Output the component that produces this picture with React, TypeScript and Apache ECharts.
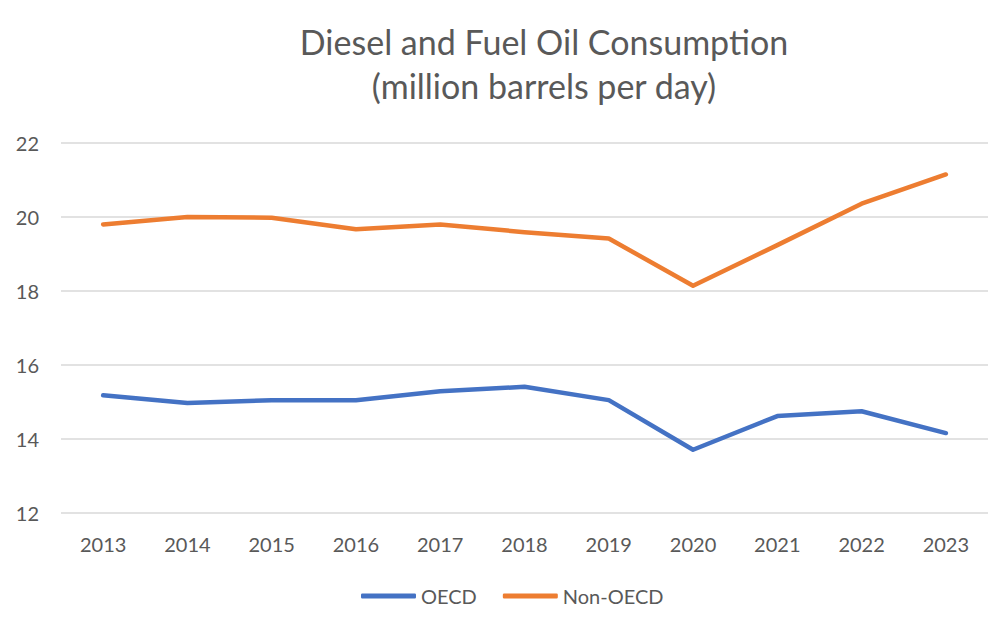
import React, { useEffect, useRef } from "react";
import * as echarts from "echarts";

const years = ["2013", "2014", "2015", "2016", "2017", "2018", "2019", "2020", "2021", "2022", "2023"];
const oecd = [15.18, 14.97, 15.05, 15.05, 15.29, 15.41, 15.05, 13.71, 14.62, 14.75, 14.16];
const nonOecd = [19.8, 20.0, 19.98, 19.67, 19.8, 19.59, 19.42, 18.14, 19.24, 20.36, 21.15];

const FONT = "Lato, 'Open Sans', sans-serif";
const TEXT = "#595959";

export default function App() {
  const ref = useRef<HTMLDivElement>(null);
  useEffect(() => {
    if (!ref.current) return;
    const chart = echarts.init(ref.current, null, { renderer: "svg" });
    chart.setOption({
      animation: false,
      backgroundColor: "#ffffff",
      title: {
        text: "Diesel and Fuel Oil Consumption\n(million barrels per day)",
        left: 539,
        textAlign: "center",
        top: 14,
        textStyle: {
          fontFamily: FONT,
          fontSize: 34,
          fontWeight: "normal",
          color: TEXT,
          lineHeight: 44,
        },
      },
      grid: { left: 61, right: 12, top: 143, bottom: 119, containLabel: false },
      xAxis: {
        type: "category",
        data: years,
        boundaryGap: true,
        axisLine: { show: false },
        axisTick: { show: false },
        axisLabel: { fontFamily: FONT, fontSize: 20, color: TEXT, margin: 21 },
      },
      yAxis: {
        type: "value",
        min: 12,
        max: 22,
        interval: 2,
        axisLine: { show: false },
        axisTick: { show: false },
        axisLabel: { fontFamily: FONT, fontSize: 20, color: TEXT, margin: 22 },
        splitLine: { lineStyle: { color: "#d9d9d9", width: 1.5 } },
      },
      legend: {
        bottom: 21,
        left: 356,
        itemWidth: 55,
        itemHeight: 5,
        itemGap: 26,
        icon: "roundRect",
        textStyle: { fontFamily: FONT, fontSize: 20, color: TEXT, padding: [0, 0, 0, 0] },
        data: ["OECD", "Non-OECD"],
      },
      series: [
        {
          name: "OECD",
          type: "line",
          data: oecd,
          symbol: "none",
          color: "#4472C4",
          lineStyle: { width: 4.5, color: "#4472C4", cap: "round", join: "round" },
        },
        {
          name: "Non-OECD",
          type: "line",
          data: nonOecd,
          symbol: "none",
          color: "#ED7D31",
          lineStyle: { width: 4.5, color: "#ED7D31", cap: "round", join: "round" },
        },
      ],
    });
    return () => chart.dispose();
  }, []);
  return (
    <div
      ref={ref}
      style={{ position: "absolute", left: 0, top: 0, width: 1000, height: 632 }}
    />
  );
}
